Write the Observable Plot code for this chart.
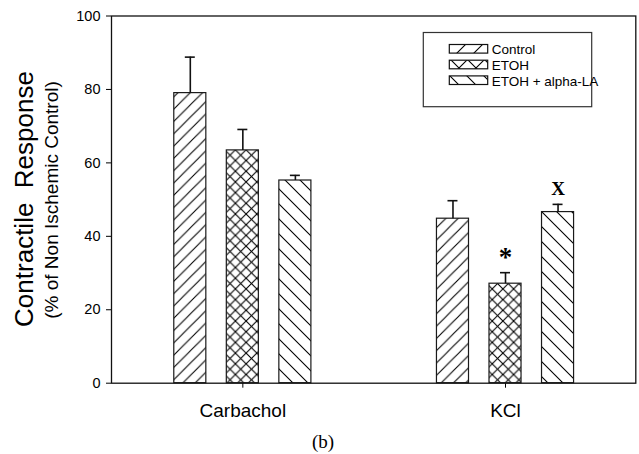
<!DOCTYPE html>
<html><head><meta charset="utf-8">
<script src="https://cdn.jsdelivr.net/npm/d3@7"></script>
<script src="https://cdn.jsdelivr.net/npm/@observablehq/plot@0.6"></script>
<style>
body{margin:0;background:#fff}
#chart svg{display:block}
#chart svg g[aria-label^="y-axis"] text{font-size:14.5px}
#chart svg g[aria-label^="x-axis"] text{font-size:19px}
</style>
</head><body><div id="chart"></div>
<script>
// ---- data ----
const groups = ["Carbachol", "KCl"];
const series = ["Control", "ETOH", "ETOH + alpha-LA"];
const carbacholMean = [79.0, 63.4, 55.2];
const carbacholErr  = [9.8, 5.7, 1.4];
const kclMean = [44.8, 27.1, 46.6];
const kclErr  = [4.9, 3.0, 2.1];
const carbacholMarks = ["", "", ""];
const kclMarks = ["", "*", "X"];
const yTicks = [0, 20, 40, 60, 80, 100];

// ---- build table ----
const GROUP_STEP = 5;
const means = [carbacholMean, kclMean], errs = [carbacholErr, kclErr], marks = [carbacholMarks, kclMarks];
const data = [];
groups.forEach((g, gi) => series.forEach((s, si) => data.push({
  group: g, series: s, pos: gi * GROUP_STEP + si,
  mean: means[gi][si], err: errs[gi][si], mark: marks[gi][si]
})));
const patternIds = ["hatch-fwd", "hatch-cross", "hatch-back"];
const HALF = 0.305, CAP = 0.095;

const chart = Plot.plot({
  width: 639, height: 454,
  marginLeft: 111, marginRight: 3.7, marginTop: 15.5, marginBottom: 71.3,
  style: {fontFamily: "'Liberation Sans', Arial, sans-serif", fontSize: "14px", background: "white", color: "black"},
  x: {domain: [-1.5, 8.48], ticks: groups.map((g, i) => i * GROUP_STEP + 1),
      tickFormat: v => groups[Math.round((v - 1) / GROUP_STEP)], tickSize: 5, tickPadding: 15, label: null},
  y: {domain: [0, 100], ticks: yTicks, tickSize: 5, tickPadding: 6, label: null},
  marks: [
    ...series.map((s, si) => Plot.rect(data.filter(d => d.series === s), {
      x1: d => d.pos - HALF, x2: d => d.pos + HALF, y1: d => 0, y2: "mean",
      fill: `url(#${patternIds[si]})`, stroke: "#1a1a1a", strokeWidth: 1.2
    })),
    Plot.ruleX(data, {x: "pos", y1: "mean", y2: d => d.mean + d.err, stroke: "#111", strokeWidth: 1.6}),
    Plot.ruleY(data, {y: d => d.mean + d.err, x1: d => d.pos - CAP, x2: d => d.pos + CAP, stroke: "#111", strokeWidth: 1.6}),
    Plot.text(data.filter(d => d.mark), {x: "pos", y: d => d.mean + d.err, text: "mark", dy: -15.5,
      lineAnchor: "middle", fontFamily: "'Liberation Serif', 'Times New Roman', serif", fontWeight: "bold",
      fontSize: d => d.mark === "*" ? 27 : 19}),
    Plot.frame({stroke: "#111", strokeWidth: 1.3})
  ]
});
document.getElementById("chart").append(chart);

// ---- patterns ----
const svg = d3.select(chart);
const defs = svg.insert("defs", ":first-child");
function addPattern(id, s, kinds, sw) {
  const p = defs.append("pattern").attr("id", id).attr("patternUnits", "userSpaceOnUse")
    .attr("width", s).attr("height", s);
  p.append("rect").attr("width", s).attr("height", s).attr("fill", "white");
  if (kinds.includes("/")) p.append("path")
    .attr("d", `M${-s/2},${s/2}L${s/2},${-s/2}M0,${s}L${s},0M${s/2},${3*s/2}L${3*s/2},${s/2}`)
    .attr("stroke", "#000").attr("stroke-width", sw);
  if (kinds.includes("\\")) p.append("path")
    .attr("d", `M${-s/2},${s/2}L${s/2},${3*s/2}M0,0L${s},${s}M${s/2},${-s/2}L${3*s/2},${s/2}`)
    .attr("stroke", "#000").attr("stroke-width", sw);
}
addPattern("hatch-fwd", 12.3, "/", 1.1);
addPattern("hatch-cross", 10.7, "/\\", 1.1);
addPattern("hatch-back", 15, "\\", 1.1);
addPattern("leg-fwd", 17, "/", 1.1);
addPattern("leg-cross", 17, "/\\", 1.1);
addPattern("leg-back", 17, "\\", 1.1);

const sans = "'Liberation Sans', Arial, sans-serif";
// ---- legend ----
const lg = svg.append("g").attr("text-anchor", "start");
lg.append("rect").attr("x", 423.3).attr("y", 32.5).attr("width", 168.4).attr("height", 74.2)
  .attr("fill", "white").attr("stroke", "#333").attr("stroke-width", 1.2);
const legIds = ["leg-fwd", "leg-cross", "leg-back"];
const rowY = [44.5, 60.2, 75.9];
series.forEach((s, i) => {
  lg.append("rect").attr("x", 449.3).attr("y", rowY[i]).attr("width", 38.4).attr("height", 8.6)
    .attr("fill", `url(#${legIds[i]})`).attr("stroke", "#111").attr("stroke-width", 1.2);
  lg.append("text").attr("x", 491.7).attr("y", rowY[i] + 9.6).attr("text-anchor", "start").text(s)
    .attr("font-family", sans).attr("font-size", 13.5).attr("fill", "#000");
});

// ---- y titles ----
svg.append("text").attr("transform", "translate(33,199) rotate(-90)").attr("text-anchor", "middle")
  .attr("font-family", sans).attr("font-size", 26).style("white-space", "pre").text("Contractile  Response");
svg.append("text").attr("transform", "translate(58,200) rotate(-90)").attr("text-anchor", "middle")
  .attr("font-family", sans).attr("font-size", 19).text("(% of Non Ischemic Control)");
// ---- caption ----
svg.append("text").attr("x", 323).attr("y", 448).attr("text-anchor", "middle")
  .attr("font-family", "'Liberation Serif', 'Times New Roman', serif").attr("font-size", 19).text("(b)");
</script>
</body></html>
